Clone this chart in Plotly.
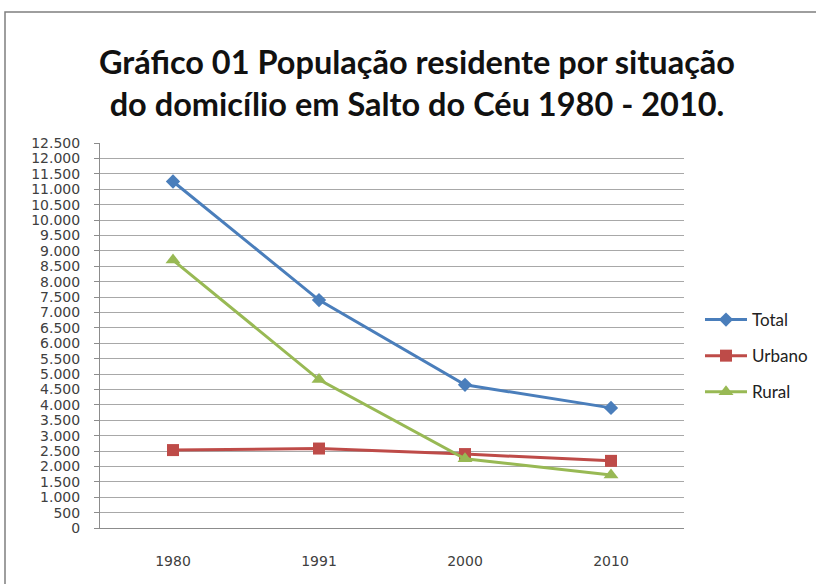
import plotly.graph_objects as go

# Population by household situation, Salto do Céu
anos = ["1980", "1991", "2000", "2010"]
total = [11250, 7400, 4650, 3900]
urbano = [2530, 2580, 2400, 2180]
rural = [8700, 4820, 2250, 1720]

series = [
    ("Total", total, "#4a7ebb", "diamond", 11),
    ("Urbano", urbano, "#be4b48", "square", 12),
    ("Rural", rural, "#98b954", "triangle-up", 13),
]

fig = go.Figure()
for nome, valores, cor, simbolo, tam in series:
    fig.add_trace(go.Scatter(
        x=anos, y=valores, name=nome, mode="lines+markers",
        legendgroup=nome,
        line=dict(color=cor, width=3),
        marker=dict(symbol=simbolo, size=tam, color=cor),
    ))

L, R, T, B = 100, 132, 143, 56
W, H = 816, 584
pw, ph = W - L - R, H - T - B

def px_x(p):
    return (p - L) / pw

def px_y(p):
    return (H - B - p) / ph

fig.update_layout(
    width=W, height=H,
    margin=dict(l=L, r=R, t=T, b=B, autoexpand=False),
    paper_bgcolor="white", plot_bgcolor="white",
    separators=",.",
    title=dict(
        text="<b>Gráfico 01 População residente por situação<br>do domicílio em Salto do Céu 1980 - 2010.</b>",
        x=417 / W, xref="container", xanchor="center",
        y=1 - 74 / H, yanchor="middle",
        font=dict(family="Lato, Open Sans, sans-serif", size=32.5, color="#111111"),
    ),
    xaxis=dict(
        type="category", range=[-0.5, 3.5],
        showgrid=False, showline=True, linecolor="#8c8c8c", linewidth=1,
        ticks="", ticklabelstandoff=20,
        tickfont=dict(family="DejaVu Sans, sans-serif", size=14, color="#404040"),
        zeroline=False, fixedrange=True,
    ),
    yaxis=dict(
        range=[0, 12500], dtick=500, tick0=0, tickformat=",d",
        showgrid=True, gridcolor="#a8a8a8", gridwidth=1,
        showline=True, linecolor="#8c8c8c", linewidth=1,
        ticks="outside", ticklen=5, tickcolor="#8c8c8c",
        ticklabelstandoff=11,
        tickfont=dict(family="DejaVu Sans, sans-serif", size=14, color="#404040"),
        zeroline=False, fixedrange=True,
    ),
    legend=dict(
        x=px_x(700), y=px_y(356), xanchor="left", yanchor="middle",
        font=dict(family="Lato, Open Sans, sans-serif", size=17, color="#222222"),
        tracegroupgap=11, itemwidth=42, bgcolor="rgba(0,0,0,0)",
    ),
    showlegend=True,
)

# Chart frame
fig.add_shape(
    type="rect", xref="paper", yref="paper",
    x0=px_x(5), y0=px_y(600), x1=px_x(830), y1=px_y(12),
    line=dict(color="#7f7f7f", width=1.5), fillcolor="rgba(0,0,0,0)",
    layer="below",
)

fig.write_html("out.html")
